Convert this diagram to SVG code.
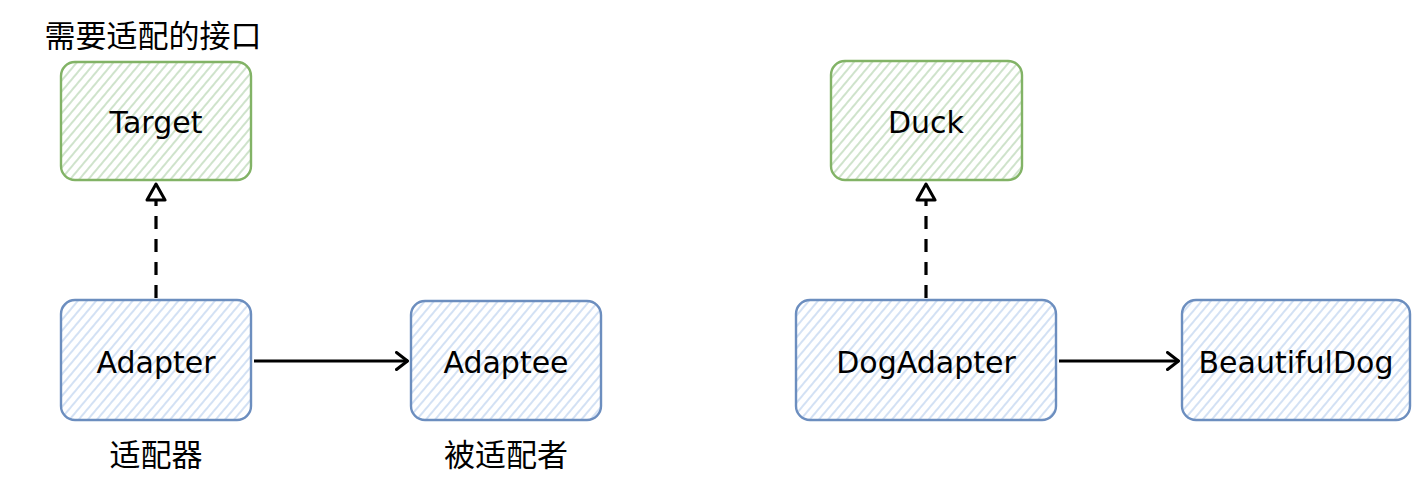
<svg xmlns="http://www.w3.org/2000/svg" width="1412" height="482" viewBox="0 0 1412 482">
  <defs>
    <pattern id="hatchGreen" patternUnits="userSpaceOnUse" width="7" height="7" patternTransform="rotate(40)">
      <rect width="7" height="7" fill="#ffffff"/>
      <line x1="1" y1="0" x2="1" y2="7" stroke="#b5d5b0" stroke-width="1.3"/>
    </pattern>
    <pattern id="hatchBlue" patternUnits="userSpaceOnUse" width="7" height="7" patternTransform="rotate(40)">
      <rect width="7" height="7" fill="#ffffff"/>
      <line x1="1" y1="0" x2="1" y2="7" stroke="#bcd2ef" stroke-width="1.3"/>
    </pattern>
    <marker id="openArrow" markerUnits="userSpaceOnUse" viewBox="0 0 14 20" refX="13" refY="10" markerWidth="14" markerHeight="20" orient="auto">
      <path d="M1.5,1.5 L12.5,10 L1.5,18.5" fill="none" stroke="#000" stroke-width="3" stroke-linecap="round" stroke-linejoin="round"/>
    </marker>
    <marker id="hollowTri" markerUnits="userSpaceOnUse" viewBox="0 0 20 22" refX="18" refY="11" markerWidth="20" markerHeight="22" orient="auto">
      <path d="M2,2 L18,11 L2,20 Z" fill="#ffffff" stroke="#000" stroke-width="3" stroke-linejoin="round"/>
    </marker>
  </defs>
  <style>
    .green { fill: url(#hatchGreen); stroke: #82b366; stroke-width: 2.4; }
    .blue { fill: url(#hatchBlue); stroke: #6c8ebf; stroke-width: 2.4; }
    .lbl { font-family: "DejaVu Sans", "Liberation Sans", sans-serif; font-size: 30px; fill: #000; text-anchor: middle; }
    .cjk { font-family: "Noto Sans CJK SC", "Noto Sans", sans-serif; font-size: 31px; fill: #000; text-anchor: middle; }
    .dash { stroke: #000; stroke-width: 3.2; fill: none; stroke-dasharray: 13 10; marker-end: url(#hollowTri); }
    .solid { stroke: #000; stroke-width: 3.2; fill: none; marker-end: url(#openArrow); }
  </style>

  <g id="connectors">
    <path class="dash" d="M156,298 L156,184"/>
    <path class="solid" d="M254,361 L408,361"/>
    <path class="dash" d="M926,298 L926,184"/>
    <path class="solid" d="M1059,361 L1179,361"/>
  </g>

  <g id="target">
    <rect class="green" x="61" y="62" width="190" height="118" rx="14"/>
    <text class="lbl" x="156" y="133">Target</text>
  </g>
  <g id="target-label">
    <text class="cjk" x="153" y="47">需要适配的接口</text>
  </g>

  <g id="adapter">
    <rect class="blue" x="61" y="300" width="190" height="120" rx="14"/>
    <text class="lbl" x="156" y="373">Adapter</text>
  </g>
  <g id="adapter-label">
    <text class="cjk" x="156" y="466">适配器</text>
  </g>

  <g id="adaptee">
    <rect class="blue" x="411" y="301" width="190" height="119" rx="14"/>
    <text class="lbl" x="506" y="373">Adaptee</text>
  </g>
  <g id="adaptee-label">
    <text class="cjk" x="506" y="466">被适配者</text>
  </g>

  <g id="duck">
    <rect class="green" x="831" y="61" width="191" height="119" rx="14"/>
    <text class="lbl" x="926" y="133">Duck</text>
  </g>

  <g id="dogadapter">
    <rect class="blue" x="796" y="300" width="260" height="120" rx="14"/>
    <text class="lbl" x="926" y="373">DogAdapter</text>
  </g>

  <g id="beautifuldog">
    <rect class="blue" x="1182" y="300" width="228" height="120" rx="14"/>
    <text class="lbl" x="1296" y="373">BeautifulDog</text>
  </g>
</svg>
